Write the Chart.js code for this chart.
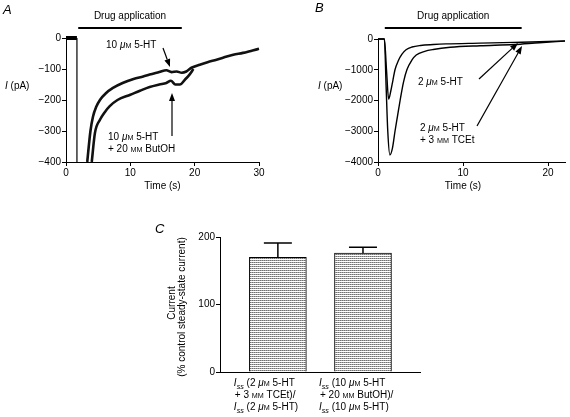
<!DOCTYPE html>
<html>
<head>
<meta charset="utf-8">
<script src="https://cdn.jsdelivr.net/npm/chart.js@4"></script>
<style>
  html, body { margin: 0; padding: 0; background: #fff; }
  #wrap { position: relative; width: 570px; height: 417px; }
  canvas { position: absolute; left: 0; top: 0; }
</style>
</head>
<body>
<div id="wrap">
  <canvas id="chartA" width="570" height="417"></canvas>
  <canvas id="chartB" width="570" height="417"></canvas>
  <canvas id="chartC" width="570" height="417"></canvas>
</div>
<script>
/* ==========================================================
   DATA
========================================================== */
// Panel A: 10 uM 5-HT with / without 20 mM ButOH
const tA_base = [0, 1.7];
const iA_base = [0, 0];
const tA_drop = [1.7, 1.7];
const iA_drop = [0, -400];
const tA_ctl = [3.3, 3.8, 4.2, 4.7, 5.3, 6.2, 7.3, 8.8, 10.5, 12, 13, 14.5, 15.6, 16.4, 17.2, 18, 18.7, 19.5, 20.8, 22, 23.4, 25, 26, 27.5, 29, 30];
const iA_ctl = [-400, -300, -253, -222, -199, -178, -161, -145, -132, -124, -118, -110, -104, -110, -108, -112, -108, -96, -86, -78, -70, -60, -54, -48, -40, -35];
const tA_but = [4.0, 4.5, 5.3, 6.0, 6.8, 8, 10, 11.5, 13, 14.5, 15.6, 16.3, 17, 17.7, 18.5, 19.2, 19.8];
const iA_but = [-400, -306, -263, -240, -220, -200, -183, -170, -158, -150, -145, -138, -150, -150, -134, -118, -100];
const drugA = [1.9, 18];
const ticksAx = [0, 10, 20, 30];
const ticksAy = [0, -100, -200, -300, -400];

// Panel B: 2 uM 5-HT with / without 3 mM TCEt
const tB_ctl = [0, 0.75, 1.0, 1.25, 1.5, 1.75, 2.0, 2.4, 2.8, 3.3, 4.0, 5, 6.5, 8, 12, 16, 19, 22];
const iB_ctl = [0, 0, -1000, -1950, -1700, -1350, -1000, -700, -500, -350, -260, -210, -180, -160, -135, -110, -90, -60];
const tB_tce = [0, 0.75, 0.95, 1.15, 1.4, 1.7, 2.0, 2.3, 2.6, 3.0, 3.4, 4.0, 4.5, 5.5, 6.5, 8.5, 12, 16, 19, 22];
const iB_tce = [0, 0, -1500, -3000, -3770, -3550, -3000, -2500, -2000, -1400, -1000, -680, -520, -400, -340, -270, -220, -180, -120, -70];
const drugB = [0.8, 16.9];
const ticksBx = [0, 10, 20];
const ticksBy = [0, -1000, -2000, -3000, -4000];

// Panel C: steady-state current ratios
const catC = [
  ["*I*~ss~ (2 *μ*^M^ 5-HT", "+ 3 ^MM^ TCEt)/", "*I*~ss~ (2 *μ*^M^ 5-HT)"],
  ["*I*~ss~ (10 *μ*^M^ 5-HT", "+ 20 ^MM^ ButOH)/", "*I*~ss~ (10 *μ*^M^ 5-HT)"]
];
const posC = [1, 2];
const valC = [170, 176];
const errC = [21, 9];
const ticksCy = [0, 100, 200];

/* ==========================================================
   HELPERS
========================================================== */
const FONT = '"Liberation Sans", Arial, sans-serif';
const pts = (xs, ys) => xs.map((x, i) => ({ x: x, y: ys[i] }));
const fmt = v => (v < 0 ? '\u2212' + Math.abs(v) : String(v));

// *italic*  ^SMALLCAPS^  ~subscript~
function rich(ctx, str, x, y, size, align) {
  const parts = str.split(/(\*[^*]+\*|\^[^^]+\^|~[^~]+~)/).filter(p => p);
  const segs = parts.map(p => {
    let t = p, st = '', fs = size, dy = 0;
    if (p[0] === '*') { t = p.slice(1, -1); st = 'italic '; }
    else if (p[0] === '^') { t = p.slice(1, -1); fs = size * 0.72; }
    else if (p[0] === '~') { t = p.slice(1, -1); st = 'italic '; fs = size * 0.72; dy = 2.5; }
    return { t, font: st + fs + 'px ' + FONT, dy };
  });
  let total = 0;
  segs.forEach(s => { ctx.font = s.font; s.w = ctx.measureText(s.t).width; total += s.w; });
  let cx = align === 'center' ? x - total / 2 : x;
  ctx.textAlign = 'left';
  ctx.textBaseline = 'alphabetic';
  segs.forEach(s => { ctx.font = s.font; ctx.fillText(s.t, cx, y + s.dy); cx += s.w; });
}

function arrow(ctx, x1, y1, x2, y2) {
  const a = Math.atan2(y2 - y1, x2 - x1);
  const len = 8, hw = 3;
  const bx = x2 - len * Math.cos(a), by = y2 - len * Math.sin(a);
  ctx.beginPath();
  ctx.moveTo(x1, y1);
  ctx.lineTo(bx, by);
  ctx.lineWidth = 1.2;
  ctx.strokeStyle = '#000';
  ctx.stroke();
  ctx.beginPath();
  ctx.moveTo(x2, y2);
  ctx.lineTo(bx + hw * Math.sin(a), by - hw * Math.cos(a));
  ctx.lineTo(bx - hw * Math.sin(a), by + hw * Math.cos(a));
  ctx.closePath();
  ctx.fillStyle = '#000';
  ctx.fill();
}

function axis(min, max, ticks, size, isY) {
  return {
    type: 'linear',
    min: min,
    max: max,
    afterBuildTicks: s => { s.ticks = ticks.map(v => ({ value: v })); },
    afterFit: s => { if (isY) s.width = size; else s.height = size; },
    border: { display: true, color: '#000', width: 1 },
    grid: { drawOnChartArea: false, drawTicks: true, tickLength: 4, color: '#000', lineWidth: 1 },
    ticks: { color: '#000', font: { family: FONT, size: 10 }, padding: 1, autoSkip: false, maxRotation: 0, callback: fmt }
  };
}

function baseOptions(padding) {
  return {
    responsive: false,
    animation: false,
    events: [],
    layout: { padding: padding },
    plugins: { legend: { display: false }, tooltip: { enabled: false } },
    elements: { point: { radius: 0 }, line: { borderColor: '#000', cubicInterpolationMode: 'monotone' } }
  };
}

function drugBar(ctx, chart, range) {
  const xs = chart.scales.x;
  ctx.beginPath();
  ctx.moveTo(xs.getPixelForValue(range[0]), 28);
  ctx.lineTo(xs.getPixelForValue(range[1]), 28);
  ctx.lineWidth = 2;
  ctx.strokeStyle = '#000';
  ctx.stroke();
  ctx.fillStyle = '#000';
  rich(ctx, 'Drug application', (xs.getPixelForValue(range[0]) + xs.getPixelForValue(range[1])) / 2, 19, 10, 'center');
}

/* ==========================================================
   PANEL A
========================================================== */
const optA = baseOptions({ left: 26, right: 311, top: 38, bottom: 225 });
optA.scales = { x: axis(0, 30, ticksAx, 30, false), y: axis(-400, 0, ticksAy, 40, true) };

new Chart(document.getElementById('chartA'), {
  type: 'line',
  data: {
    datasets: [
      { data: pts(tA_base, iA_base), borderWidth: 4, clip: false },
      { data: pts(tA_drop, iA_drop), borderWidth: 1.2, clip: false },
      { data: pts(tA_ctl, iA_ctl), borderWidth: 2.6, borderColor: '#111', clip: false },
      { data: pts(tA_but, iA_but), borderWidth: 2.6, borderColor: '#111', clip: false }
    ]
  },
  options: optA,
  plugins: [{
    id: 'annA',
    afterDraw(chart) {
      const ctx = chart.ctx;
      ctx.save();
      ctx.fillStyle = '#000';
      drugBar(ctx, chart, drugA);
      ctx.fillStyle = '#000';
      rich(ctx, '*A*', 3, 14, 13);
      rich(ctx, '*I* (pA)', 5, 89, 10);
      const ca = chart.chartArea;
      rich(ctx, 'Time (s)', (ca.left + ca.right) / 2, 189, 10, 'center');
      rich(ctx, '10 *μ*^M^ 5-HT', 106, 48, 10);
      arrow(ctx, 163, 48, 170, 67);
      ctx.fillStyle = '#000';
      rich(ctx, '10 *μ*^M^ 5-HT', 108, 140, 10);
      rich(ctx, '+ 20 ^MM^ ButOH', 108, 152, 10);
      arrow(ctx, 172, 136, 172, 93);
      ctx.restore();
    }
  }]
});

/* ==========================================================
   PANEL B
========================================================== */
const optB = baseOptions({ left: 338, right: 5, top: 39, bottom: 225 });
optB.scales = { x: axis(0, 22, ticksBx, 30, false), y: axis(-4000, 0, ticksBy, 40, true) };

new Chart(document.getElementById('chartB'), {
  type: 'line',
  data: {
    datasets: [
      { data: pts(tB_ctl, iB_ctl), borderWidth: 1.4, clip: false },
      { data: pts(tB_tce, iB_tce), borderWidth: 1.4, clip: false }
    ]
  },
  options: optB,
  plugins: [{
    id: 'annB',
    afterDraw(chart) {
      const ctx = chart.ctx;
      ctx.save();
      drugBar(ctx, chart, drugB);
      ctx.fillStyle = '#000';
      rich(ctx, '*B*', 315, 12, 13);
      rich(ctx, '*I* (pA)', 318, 89, 10);
      rich(ctx, 'Time (s)', chart.scales.x.getPixelForValue(10), 189, 10, 'center');
      rich(ctx, '2 *μ*^M^ 5-HT', 418, 85, 10);
      arrow(ctx, 479, 79, 518, 43);
      ctx.fillStyle = '#000';
      rich(ctx, '2 *μ*^M^ 5-HT', 420, 131, 10);
      rich(ctx, '+ 3 ^MM^ TCEt', 420, 143, 10);
      arrow(ctx, 477, 126, 522, 46);
      ctx.restore();
    }
  }]
});

/* ==========================================================
   PANEL C
========================================================== */
const canvasC = document.getElementById('chartC');
const pc = document.createElement('canvas');
pc.width = 2; pc.height = 2;
const pctx = pc.getContext('2d');
pctx.fillStyle = '#fff';
pctx.fillRect(0, 0, 2, 2);
pctx.fillStyle = '#707070';
pctx.fillRect(0, 0, 1, 1);
pctx.fillStyle = '#a8a8a8';
pctx.fillRect(1, 0, 1, 1);
const stipple = canvasC.getContext('2d').createPattern(pc, 'repeat');

const optC = baseOptions({ left: 180, right: 150, top: 237, bottom: 35 });
const xC = axis(0.32, 2.67, [], 10, false);
xC.offset = false;
xC.grid = { display: false, drawOnChartArea: false, drawTicks: false, offset: false };
xC.ticks = { display: false };
optC.scales = { x: xC, y: axis(0, 200, ticksCy, 40, true) };

new Chart(canvasC, {
  type: 'bar',
  data: {
    datasets: [{
      data: pts(posC, valC),
      backgroundColor: stipple,
      borderColor: '#000',
      borderWidth: 1,
      barThickness: 57
    }]
  },
  options: optC,
  plugins: [{
    id: 'annC',
    afterDraw(chart) {
      const ctx = chart.ctx;
      const xs = chart.scales.x, ys = chart.scales.y;
      ctx.save();
      ctx.strokeStyle = '#000';
      ctx.lineWidth = 1.5;
      posC.forEach((p, i) => {
        const x = xs.getPixelForValue(p);
        const y0 = ys.getPixelForValue(valC[i]);
        const y1 = ys.getPixelForValue(valC[i] + errC[i]);
        ctx.beginPath();
        ctx.moveTo(x, y0);
        ctx.lineTo(x, y1);
        ctx.moveTo(x - 14, y1);
        ctx.lineTo(x + 14, y1);
        ctx.stroke();
        ctx.fillStyle = '#000';
        catC[i].forEach((line, k) => {
          rich(ctx, line, x - 44 + (k === 1 ? 1 : 0), 386 + k * 12, 10);
        });
      });
      ctx.fillStyle = '#000';
      rich(ctx, '*C*', 155, 233, 13);
      ctx.save();
      ctx.translate(175, 303);
      ctx.rotate(-Math.PI / 2);
      rich(ctx, 'Current', 0, 0, 10, 'center');
      ctx.restore();
      ctx.save();
      ctx.translate(185, 307);
      ctx.rotate(-Math.PI / 2);
      rich(ctx, '(% control steady-state current)', 0, 0, 10, 'center');
      ctx.restore();
      ctx.restore();
    }
  }]
});
</script>
</body>
</html>
